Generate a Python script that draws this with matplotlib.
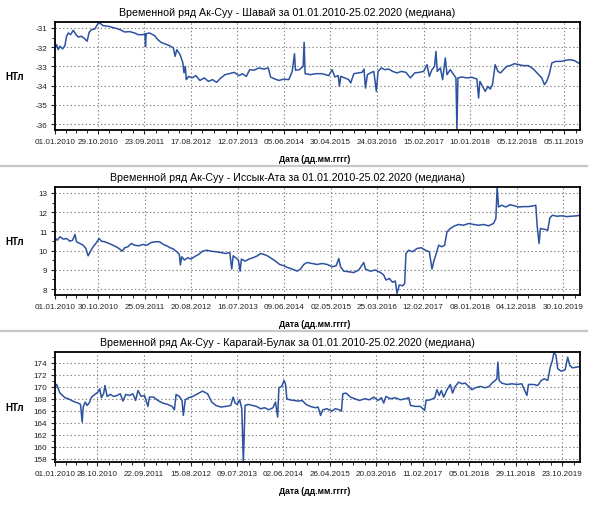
import matplotlib
matplotlib.use("Agg")
import matplotlib.pyplot as plt
import numpy as np
import pandas as pd

plt.rcParams['font.family'] = ['Liberation Sans', 'DejaVu Sans']
plt.rcParams['axes.unicode_minus'] = False

start = pd.Timestamp("2010-01-01")
end = pd.Timestamp("2020-02-25")

titles = [
    "Временной ряд Ак-Суу - Шавай за 01.01.2010-25.02.2020 (медиана)",
    "Временной ряд Ак-Суу - Иссык-Ата за 01.01.2010-25.02.2020 (медиана)",
    "Временной ряд Ак-Суу - Карагай-Булак за 01.01.2010-25.02.2020 (медиана)",
]

xticks_1 = ["01.01.2010", "29.10.2010", "23.09.2011", "17.08.2012", "12.07.2013", "05.06.2014",
            "30.04.2015", "24.03.2016", "15.02.2017", "10.01.2018", "05.12.2018", "05.11.2019"]
xticks_2 = ["01.01.2010", "30.10.2010", "25.09.2011", "20.08.2012", "16.07.2013", "09.06.2014",
            "02.05.2015", "25.03.2016", "12.02.2017", "08.01.2018", "04.12.2018", "30.10.2019"]
xticks_3 = ["01.01.2010", "28.10.2010", "22.09.2011", "15.08.2012", "09.07.2013", "02.06.2014",
            "26.04.2015", "20.03.2016", "11.02.2017", "05.01.2018", "29.11.2018", "23.10.2019"]

yticks_1 = [-31, -32, -33, -34, -35, -36]
yticks_2 = [13, 12, 11, 10, 9, 8]
yticks_3 = [174, 172, 170, 168, 166, 164, 162, 160, 158]

# days since 01.01.2010, values in nT
days_1 = [0, 12, 23, 35, 54, 70, 82, 94, 110, 129, 148, 164, 187, 211, 227, 241, 258, 281, 304, 316,
          340, 375, 410, 445, 468, 492, 527, 562, 586, 621, 635, 639, 644, 667, 703, 726, 749, 773, 808, 836,
          848, 860, 883, 902, 911, 920, 927, 944, 967, 995, 1023, 1054, 1084, 1112, 1141, 1171, 1201, 1230, 1265, 1300,
          1323, 1351, 1375, 1405, 1440, 1475, 1506, 1522, 1553, 1581, 1616, 1651, 1675, 1691, 1698, 1726, 1752, 1759, 1766, 1803,
          1838, 1886, 1933, 1957, 1976, 2000, 2008, 2018, 2046, 2074, 2088, 2110, 2140, 2168, 2182, 2192, 2206, 2227, 2251, 2269,
          2281, 2305, 2328, 2356, 2384, 2415, 2446, 2478, 2509, 2540, 2572, 2603, 2627, 2643, 2662, 2680, 2690, 2699, 2721, 2737,
          2756, 2768, 2791, 2815, 2831, 2838, 2845, 2873, 2909, 2944, 2979, 2991, 3000, 3019, 3038, 3057, 3073, 3089, 3108, 3127,
          3146, 3167, 3190, 3214, 3244, 3277, 3308, 3343, 3378, 3409, 3437, 3456, 3472, 3489, 3508, 3536, 3574, 3607, 3637, 3668,
          3696, 3707]
vals_1 = [-32.04, -31.87, -32.13, -31.95, -32.09, -31.92, -31.43, -31.26, -31.35, -31.12, -31.35, -31.47, -31.43, -31.57, -31.69, -31.23, -31.09, -31.05, -30.77, -30.74,
          -30.88, -30.91, -30.98, -31.05, -31.12, -31.21, -31.19, -31.26, -31.35, -31.35, -31.30, -31.95, -31.30, -31.26, -31.40, -31.61, -31.75, -31.82, -31.92, -32.04,
          -32.48, -32.13, -32.39, -32.79, -33.34, -33.00, -33.69, -33.52, -33.60, -33.48, -33.73, -33.60, -33.78, -33.69, -33.83, -33.60, -33.43, -33.38, -33.31, -33.48,
          -33.38, -33.52, -33.17, -33.20, -33.08, -33.14, -33.08, -33.55, -33.66, -33.73, -33.66, -33.69, -33.26, -32.34, -33.20, -33.17, -33.00, -31.75, -33.38, -33.43,
          -33.38, -33.38, -33.48, -33.17, -33.55, -33.48, -34.04, -33.52, -33.60, -33.69, -33.86, -33.38, -33.34, -33.31, -33.14, -34.13, -33.43, -33.34, -33.26, -34.30,
          -33.26, -33.08, -33.17, -33.14, -33.26, -33.34, -33.26, -33.31, -33.60, -33.34, -33.31, -33.26, -32.91, -33.52, -33.17, -33.00, -32.22, -33.26, -33.08, -33.69,
          -32.56, -33.43, -33.17, -33.43, -33.60, -36.30, -33.60, -33.55, -33.60, -33.57, -33.66, -34.65, -33.78, -34.04, -34.30, -34.04, -34.18, -33.95, -32.91, -33.26,
          -33.34, -33.17, -33.00, -32.96, -32.86, -32.91, -32.96, -32.96, -33.14, -33.38, -33.60, -33.95, -33.78, -33.43, -32.82, -32.74, -32.74, -32.68, -32.65, -32.70,
          -32.82, -32.86]

days_2 = [0, 16, 35, 59, 82, 105, 124, 141, 152, 176, 199, 218, 234, 251, 269, 293, 311, 328, 351, 382,
          410, 433, 457, 475, 492, 515, 539, 562, 593, 621, 649, 679, 710, 738, 766, 789, 813, 836, 860, 878,
          885, 895, 913, 937, 960, 984, 1014, 1042, 1070, 1101, 1136, 1171, 1206, 1234, 1248, 1258, 1276, 1295, 1307, 1316,
          1342, 1370, 1398, 1429, 1452, 1475, 1499, 1529, 1557, 1586, 1616, 1646, 1675, 1710, 1733, 1757, 1780, 1815, 1850, 1886,
          1922, 1957, 1985, 2004, 2016, 2039, 2074, 2110, 2145, 2180, 2192, 2227, 2262, 2298, 2321, 2337, 2361, 2384, 2403, 2415,
          2431, 2455, 2469, 2478, 2497, 2525, 2556, 2587, 2615, 2643, 2662, 2674, 2690, 2709, 2732, 2751, 2768, 2791, 2822, 2850,
          2885, 2920, 2956, 2991, 3026, 3061, 3096, 3113, 3122, 3132, 3155, 3183, 3214, 3244, 3273, 3308, 3343, 3378, 3395, 3404,
          3418, 3428, 3456, 3479, 3494, 3512, 3543, 3578, 3613, 3649, 3684, 3707]
vals_2 = [10.66, 10.54, 10.72, 10.60, 10.63, 10.49, 10.54, 10.84, 10.46, 10.37, 10.28, 10.11, 9.73, 9.97, 10.20, 10.42, 10.63, 10.49, 10.46, 10.37,
          10.28, 10.20, 10.08, 9.97, 10.15, 10.20, 10.37, 10.28, 10.25, 10.32, 10.28, 10.42, 10.46, 10.46, 10.32, 10.25, 10.15, 10.08, 9.94, 9.80,
          9.25, 9.68, 9.51, 9.63, 9.56, 9.68, 9.80, 9.97, 10.02, 9.97, 9.94, 9.90, 9.85, 9.90, 9.04, 9.73, 9.63, 9.51, 8.93, 9.56,
          9.45, 9.56, 9.63, 9.73, 9.85, 9.80, 9.73, 9.59, 9.45, 9.28, 9.21, 9.11, 9.04, 8.93, 9.04, 9.28, 9.38, 9.33, 9.28, 9.33,
          9.28, 9.16, 9.21, 9.59, 9.16, 8.93, 8.90, 8.86, 8.99, 9.38, 9.04, 8.93, 8.99, 8.86, 8.73, 8.47, 8.55, 8.35, 8.42, 7.77,
          8.21, 8.17, 8.29, 9.85, 10.02, 9.94, 10.11, 10.15, 10.02, 9.94, 9.04, 9.42, 9.80, 10.28, 10.20, 10.28, 10.98, 11.15, 11.29, 11.36,
          11.32, 11.41, 11.36, 11.32, 11.36, 11.29, 11.41, 11.67, 13.31, 12.27, 12.36, 12.27, 12.39, 12.33, 12.27, 12.29, 12.29, 12.33, 12.36, 11.32,
          10.37, 11.15, 11.11, 11.06, 11.70, 11.84, 11.79, 11.81, 11.77, 11.79, 11.81, 11.84]

days_3 = [0, 12, 23, 35, 54, 70, 94, 117, 141, 164, 180, 192, 199, 213, 227, 241, 258, 281, 304, 316,
          328, 344, 353, 368, 391, 415, 438, 461, 480, 499, 527, 550, 569, 586, 609, 632, 656, 667, 696, 726,
          761, 796, 827, 843, 855, 878, 897, 906, 920, 944, 972, 1007, 1042, 1077, 1107, 1136, 1171, 1206, 1241, 1258,
          1272, 1288, 1304, 1319, 1330, 1342, 1365, 1393, 1422, 1452, 1480, 1510, 1539, 1557, 1572, 1581, 1600, 1618, 1628, 1637,
          1656, 1686, 1717, 1745, 1773, 1803, 1838, 1858, 1875, 1891, 1922, 1952, 1980, 2008, 2023, 2032, 2055, 2086, 2117, 2149,
          2187, 2220, 2251, 2281, 2305, 2321, 2337, 2368, 2403, 2439, 2474, 2497, 2511, 2544, 2580, 2610, 2620, 2650, 2681, 2697,
          2713, 2728, 2744, 2768, 2791, 2807, 2826, 2850, 2873, 2897, 2920, 2944, 2967, 3003, 3038, 3066, 3085, 3108, 3120, 3127,
          3136, 3155, 3190, 3226, 3261, 3296, 3332, 3343, 3378, 3409, 3433, 3456, 3479, 3496, 3512, 3522, 3536, 3550, 3573, 3602,
          3620, 3635, 3653, 3684, 3707]
vals_3 = [169.96, 170.40, 169.68, 168.96, 168.57, 168.19, 168.02, 167.74, 167.47, 167.30, 167.08, 164.14, 166.64, 167.47, 166.91, 167.30, 168.30, 168.74, 169.13, 169.68,
          168.19, 168.96, 170.23, 168.41, 168.74, 168.41, 168.57, 168.85, 167.63, 168.74, 168.57, 168.85, 167.74, 169.40, 168.41, 168.57, 166.75, 168.30, 168.30, 167.74,
          167.30, 167.08, 166.75, 166.19, 168.74, 168.41, 167.74, 165.25, 167.85, 168.19, 168.41, 168.85, 169.29, 168.85, 167.47, 166.91, 166.64, 166.75, 166.91, 168.30,
          167.30, 167.08, 167.85, 166.36, 157.50, 166.91, 167.08, 166.91, 166.75, 166.36, 166.53, 166.19, 166.53, 167.47, 164.97, 169.85, 170.07, 171.07, 170.40, 168.02,
          167.85, 167.74, 167.63, 167.74, 167.08, 166.75, 166.53, 166.64, 165.25, 166.19, 166.36, 165.97, 166.36, 166.19, 165.97, 168.85, 168.96, 168.30, 168.02, 167.74,
          168.02, 167.85, 168.30, 167.74, 168.19, 167.30, 168.41, 168.02, 168.19, 167.85, 168.02, 168.19, 166.91, 166.75, 166.75, 166.08, 167.74, 167.85, 168.19, 169.52,
          168.57, 169.40, 168.30, 169.52, 170.40, 168.96, 170.07, 170.79, 170.51, 170.62, 170.07, 169.52, 169.85, 170.07, 169.85, 170.07, 170.62, 171.07, 171.34, 174.11,
          171.07, 170.62, 170.40, 170.51, 170.40, 170.51, 168.57, 170.40, 170.40, 170.23, 171.07, 171.34, 171.07, 173.17, 174.39, 175.61, 175.38, 173.00, 172.62, 172.84,
          174.94, 173.56, 173.17, 173.28, 173.39]

panels = [
    (days_1, vals_1, xticks_1, yticks_1, (-36.31, -30.69)),
    (days_2, vals_2, xticks_2, yticks_2, (7.69, 13.31)),
    (days_3, vals_3, xticks_3, yticks_3, (157.5, 175.8)),
]

W, H = 600, 506
fig = plt.figure(figsize=(W / 100, H / 100), dpi=100)

# axes boxes in pixels: (top, bottom)
boxes = [(23, 131), (188, 296), (353, 463)]
left_px, right_px = 55, 580
xmax = (end - start).days

for (days, vals, xt, yt, ylim), (top, bot), title in zip(panels, boxes, titles):
    ax = fig.add_axes([left_px / W, 1 - bot / H, (right_px - left_px) / W, (bot - top) / H])
    ax.plot(days, vals, color="#2d52a0", lw=1.1)
    ax.set_xlim(0, xmax)

    xpos = [(pd.to_datetime(s, format="%d.%m.%Y") - start).days for s in xt]
    ax.set_xticks(xpos)
    ax.set_xticklabels(xt)
    minor = []
    for a, b in zip(xpos[:-1], xpos[1:]):
        minor += list(np.linspace(a, b, 5)[1:-1])
    step = (xpos[-1] - xpos[-2]) / 4
    minor += [xpos[-1] + step * k for k in (1, 2, 3) if xpos[-1] + step * k < xmax]
    ax.set_xticks(minor, minor=True)

    ax.set_yticks(yt)
    ax.set_yticklabels([str(v) for v in yt])
    ystep = abs(yt[1] - yt[0]) / 2
    ax.set_yticks(np.arange(min(yt) - ystep, max(yt) + ystep * 1.5, ystep), minor=True)
    ax.set_ylim(*ylim)

    ax.grid(True, which="major", color="#808080", ls=(0, (1.2, 2.2)), lw=0.8)
    ax.tick_params(which="major", length=3, width=0.8, labelsize=5.9, pad=2.5, colors="#222222")
    ax.tick_params(which="minor", length=2, width=0.6)
    for sp in ax.spines.values():
        sp.set_linewidth(1.3)

    fig.text(287 / W, 1 - (top - 10) / H, title, ha="center", va="center", fontsize=7.7)
    fig.text(15 / W, 1 - (top + bot) / 2 / H, "НТл", ha="center", va="center",
             fontsize=7, fontweight="bold")
    fig.text(315 / W, 1 - (bot + 29) / H, "Дата (дд.мм.гггг)", ha="center", va="center",
             fontsize=6.2, fontweight="bold")

# grey separators between panels
for y in (167, 332):
    fig.add_artist(plt.Line2D([0, 587 / W], [1 - y / H, 1 - y / H], color="#c8c8c8", lw=1.6))

fig.savefig("out.png", dpi=100)
